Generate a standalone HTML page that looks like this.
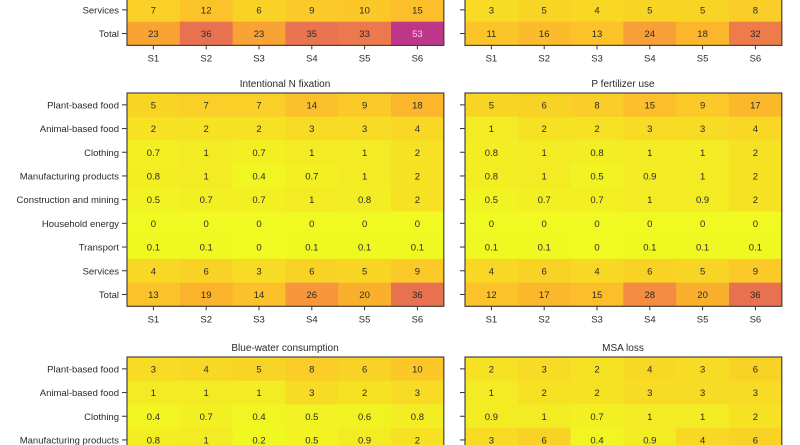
<!DOCTYPE html>
<html><head><meta charset="utf-8">
<style>
html,body{margin:0;padding:0;background:#fff;width:800px;height:445px;overflow:hidden}
svg{display:block}
text{font-family:"Liberation Sans",sans-serif;font-size:9.5px;fill:#2a2a2a}
</style></head><body>
<svg id="s" width="800" height="445" xmlns="http://www.w3.org/2000/svg"></svg>
<script>
const stops=[[0,[240,249,33]],[0.3,[240,247,33]],[0.9,[243,236,35]],[1.5,[245,228,34]],[3,[247,219,36]],[6,[249,210,38]],[10,[251,199,41]],[15,[252,190,42]],[20,[251,176,45]],[26,[247,150,60]],[33,[236,120,78]],[36,[232,114,80]],[53,[190,54,138]]];
function col(v){for(let i=1;i<stops.length;i++){if(v<=stops[i][0]){const a=stops[i-1],b=stops[i],t=(v-a[0])/(b[0]-a[0]);return 'rgb('+a[1].map((c,k)=>Math.round(c+(b[1][k]-c)*t)).join(',')+')';}}return 'rgb(190,54,138)';}
const S=document.getElementById('s');let h='';
const cw=52.8;
function panel(x0,top,rowH,labels,data,title,ticksX,showLabels,openBottom){
  if(title)h+=`<text x="${x0+158}" y="${top-6}" text-anchor="middle" style="font-size:10px">${title}</text>`;
  data.forEach((r,i)=>{const y=top+i*rowH;r.forEach((v,j)=>{const x=x0+j*cw;
    h+=`<rect x="${x}" y="${y}" width="${cw+0.5}" height="${rowH+0.5}" fill="${col(v)}"/>`;
    h+=`<text x="${x+cw/2}" y="${y+rowH/2+3.5}" text-anchor="middle" ${v>=50?'style="fill:#f4d0e4"':''}>${v}</text>`;});
    h+=`<line x1="${x0-5}" x2="${x0}" y1="${y+rowH/2}" y2="${y+rowH/2}" stroke="#333"/>`;
    if(showLabels)h+=`<text x="${x0-8}" y="${y+rowH/2+3.5}" text-anchor="end">${labels[i]}</text>`;});
  const b=openBottom?450:top+data.length*rowH;
  h+=`<rect x="${x0}" y="${top}" width="${cw*6}" height="${b-top}" fill="none" stroke="#444" stroke-width="1.2"/>`;
  if(ticksX){for(let j=0;j<6;j++){const x=x0+j*cw+cw/2;h+=`<line x1="${x}" x2="${x}" y1="${b}" y2="${b+4}" stroke="#333"/><text x="${x}" y="${b+16}" text-anchor="middle">S${j+1}</text>`;}}
}
const L=['Plant-based food','Animal-based food','Clothing','Manufacturing products','Construction and mining','Household energy','Transport','Services','Total'];
const rh=23.7;
panel(127,-2,rh,['Services','Total'],[[7,12,6,9,10,15],[23,36,23,35,33,53]],null,true,true);
panel(465,-2,rh,['Services','Total'],[[3,5,4,5,5,8],[11,16,13,24,18,32]],null,true,false);
panel(127,93,rh,L,[[5,7,7,14,9,18],[2,2,2,3,3,4],[0.7,1,0.7,1,1,2],[0.8,1,0.4,0.7,1,2],[0.5,0.7,0.7,1,0.8,2],[0,0,0,0,0,0],[0.1,0.1,0,0.1,0.1,0.1],[4,6,3,6,5,9],[13,19,14,26,20,36]],'Intentional N fixation',true,true);
panel(465,93,rh,L,[[5,6,8,15,9,17],[1,2,2,3,3,4],[0.8,1,0.8,1,1,2],[0.8,1,0.5,0.9,1,2],[0.5,0.7,0.7,1,0.9,2],[0,0,0,0,0,0],[0.1,0.1,0,0.1,0.1,0.1],[4,6,4,6,5,9],[12,17,15,28,20,36]],'P fertilizer use',true,false);
panel(127,357,rh,L,[[3,4,5,8,6,10],[1,1,1,3,2,3],[0.4,0.7,0.4,0.5,0.6,0.8],[0.8,1,0.2,0.5,0.9,2]],'Blue-water consumption',false,true,true);
panel(465,357,rh,L,[[2,3,2,4,3,6],[1,2,2,3,3,3],[0.9,1,0.7,1,1,2],[3,6,0.4,0.9,4,6]],'MSA loss',false,false,true);
S.innerHTML=h;
</script>
</body></html>
